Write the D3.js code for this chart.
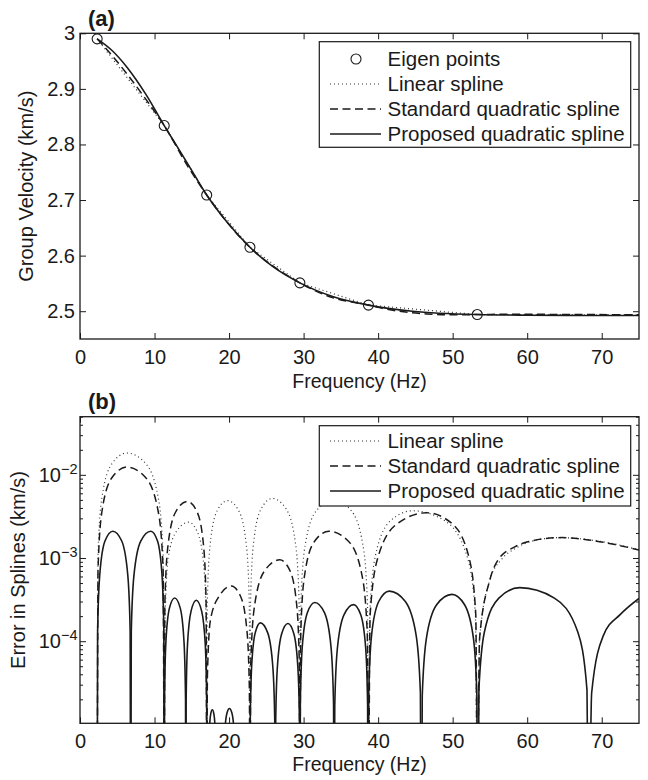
<!DOCTYPE html>
<html>
<head>
<meta charset="utf-8">
<script src="https://cdn.jsdelivr.net/npm/d3@7"></script>
<style>
body { margin: 0; background: #fff; }
svg text { font-family: "Liberation Sans", Arial, Helvetica, sans-serif; fill: #1a1a1a; }
</style>
</head>
<body>
<svg id="chart" width="648" height="780"></svg>
<script>
// ---- panel (a): group velocity ----
var eigenFreq = [2.3, 11.3, 17.0, 22.8, 29.5, 38.7, 53.3];			// eigen points (Hz)
var eigenVel = [2.990, 2.834, 2.709, 2.615, 2.551, 2.511, 2.494];	// km/s

var linearFreq = [2.3, 11.3, 17.0, 22.8, 29.5, 38.7, 53.3, 75];
var linearVel = [2.990, 2.834, 2.709, 2.615, 2.551, 2.511, 2.494, 2.4935];

var standardFreq = [2.3, 4.3, 6.3, 8.8, 11.3, 14.4, 17, 19.8, 22.8, 26.8, 29.5, 33.4, 38.7, 42.5, 46.5, 50, 53.3, 58.4, 64.5, 75];
var standardVel = [2.990, 2.960, 2.927, 2.882, 2.834, 2.762, 2.709, 2.659, 2.615, 2.573, 2.551, 2.5265, 2.511, 2.5005, 2.495, 2.4935, 2.494, 2.4945, 2.4942, 2.4935];

var proposedFreq = [2.3, 4.3, 6.3, 8.8, 11.3, 13, 14.6, 17, 19.8, 22.8, 25.8, 29.5, 34, 38.7, 44.6, 53.3, 60, 67, 75];
var proposedVel = [2.990, 2.969, 2.939, 2.891, 2.834, 2.797, 2.762, 2.709, 2.659, 2.615, 2.581, 2.551, 2.526, 2.511, 2.500, 2.494, 2.4928, 2.4924, 2.4922];

var freqTicks = [0, 10, 20, 30, 40, 50, 60, 70];
var velTicks = [2.5, 2.6, 2.7, 2.8, 2.9, 3];

// ---- panel (b): spline errors, one [freq, error] list per lobe (0 = exact at node) ----
var linearErr = [
  [[2.3,0],[2.42,1.1e-3],[2.94,5.3e-3],[4.3,1.37e-2],[6.3,1.83e-2],[8.8,1.37e-2],[10.5,5.3e-3],[11.15,1.1e-3],[11.3,0]],
  [[11.3,0],[11.4,1.6e-4],[11.83,1.0e-3],[12.95,2.1e-3],[14.6,2.7e-3],[15.8,2.0e-3],[16.62,7.8e-4],[16.93,1.6e-4],[17.0,0]],
  [[17.0,0],[17.08,2.9e-4],[17.45,1.42e-3],[18.4,3.7e-3],[19.8,4.9e-3],[21.3,3.7e-3],[22.32,1.42e-3],[22.71,2.9e-4],[22.8,0]],
  [[22.8,0],[22.89,3.1e-4],[23.28,1.5e-3],[24.3,3.9e-3],[25.8,5.2e-3],[27.65,3.9e-3],[28.91,1.5e-3],[29.39,3.1e-4],[29.5,0]],
  [[29.5,0],[29.64,3.0e-4],[30.22,1.45e-3],[31.75,3.75e-3],[34.0,5.0e-3],[36.35,3.75e-3],[37.95,1.45e-3],[38.56,3.0e-4],[38.7,0]],
  [[38.7,0],[38.88,2.2e-4],[39.64,1.07e-3],[41.65,2.8e-3],[44.6,3.7e-3],[48.95,2.8e-3],[51.9,1.07e-3],[53.04,2.2e-4],[53.3,0]],
  [[53.3,0],[53.62,1.1e-4],[55.0,5.5e-4],[56.5,9.5e-4],[58.4,1.3e-3],[60.5,1.58e-3],[64.5,1.76e-3],[68.2,1.66e-3],[71.8,1.47e-3],[75,1.25e-3]]
];
var standardErr = [
  [[2.3,0],[2.42,7.4e-4],[2.94,3.6e-3],[4.3,9.3e-3],[6.3,1.24e-2],[8.8,9.3e-3],[10.5,3.6e-3],[11.15,7.4e-4],[11.3,0]],
  [[11.3,0],[11.39,2.9e-4],[11.8,1.4e-3],[12.85,3.6e-3],[14.4,4.8e-3],[15.7,3.6e-3],[16.58,1.4e-3],[16.92,2.9e-4],[17.0,0]],
  [[17.0,0],[17.1,4e-5],[17.5,1.8e-4],[18.65,3.45e-4],[20.3,4.6e-4],[21.55,3.45e-4],[22.4,1.33e-4],[22.72,2.8e-5],[22.8,0]],
  [[22.8,0],[22.92,5.7e-5],[23.44,2.75e-4],[24.8,7.1e-4],[26.8,9.5e-4],[28.15,7.1e-4],[29.07,2.75e-4],[29.42,5.7e-5],[29.5,0]],
  [[29.5,0],[29.62,1.26e-4],[30.12,6.1e-4],[31.45,1.58e-3],[33.4,2.1e-3],[36.05,1.58e-3],[37.85,6.1e-4],[38.54,1.26e-4],[38.7,0]],
  [[38.7,0],[38.93,2.1e-4],[39.95,1.0e-3],[42.6,2.6e-3],[46.5,3.5e-3],[49.9,2.6e-3],[52.21,1.0e-3],[53.1,2.1e-4],[53.3,0]],
  [[53.3,0],[53.62,1.1e-4],[55.0,5.5e-4],[56.1,9.5e-4],[58.4,1.37e-3],[60.2,1.58e-3],[64.6,1.76e-3],[68.2,1.65e-3],[71.8,1.45e-3],[75,1.25e-3]]
];
var proposedErr = [
  [[2.3,0],[2.36,1.3e-4],[2.64,6.1e-4],[3.35,1.6e-3],[4.4,2.1e-3],[5.6,1.6e-3],[6.42,6.1e-4],[6.73,1.3e-4],[6.8,0]],
  [[6.8,0],[6.88,1.3e-4],[7.23,6.1e-4],[8.15,1.6e-3],[9.5,2.1e-3],[10.4,1.6e-3],[11.01,6.1e-4],[11.25,1.3e-4],[11.3,0]],
  [[11.3,0],[11.34,2.0e-5],[11.52,9.6e-5],[12.0,2.5e-4],[12.7,3.3e-4],[13.45,2.5e-4],[13.96,9.6e-5],[14.16,2.0e-5],[14.2,0]],
  [[14.2,0],[14.24,1.9e-5],[14.42,9.0e-5],[14.9,2.3e-4],[15.6,3.1e-4],[16.32,2.3e-4],[16.81,9.0e-5],[17.0,1.9e-5],[17.04,0]],
  [[17.3,0],[17.4,1.0e-5],[17.55,1.35e-5],[17.75,1.5e-5],[17.95,1.35e-5],[18.1,1.0e-5],[18.2,0]],
  [[19.35,0],[19.5,1.0e-5],[19.75,1.4e-5],[20.05,1.55e-5],[20.35,1.4e-5],[20.6,1.0e-5],[20.75,0]],
  [[22.8,0],[22.84,1.0e-5],[23.02,4.8e-5],[23.5,1.25e-4],[24.2,1.66e-4],[25.2,1.25e-4],[25.88,4.8e-5],[26.14,1.0e-5],[26.2,0]],
  [[26.2,0],[26.25,1.0e-5],[26.47,4.7e-5],[27.05,1.22e-4],[27.9,1.63e-4],[28.7,1.22e-4],[29.24,4.7e-5],[29.45,1.0e-5],[29.5,0]],
  [[29.5,0],[29.56,1.75e-5],[29.82,8.5e-5],[30.5,2.2e-4],[31.5,2.92e-4],[32.8,2.2e-4],[33.68,8.5e-5],[34.02,1.75e-5],[34.1,0]],
  [[34.1,0],[34.18,1.65e-5],[34.52,8.0e-5],[35.4,2.06e-4],[36.7,2.75e-4],[37.68,2.06e-4],[38.34,8.0e-5],[38.59,1.65e-5],[38.65,0]],
  [[38.65,0],[38.74,2.4e-5],[39.11,1.16e-4],[40.08,3.0e-4],[41.5,4.0e-4],[43.65,3.0e-4],[45.11,1.16e-4],[45.67,2.4e-5],[45.8,0]],
  [[45.8,0],[45.92,2.2e-5],[46.46,1.06e-4],[47.85,2.74e-4],[49.9,3.65e-4],[51.6,2.74e-4],[52.8,1.06e-4],[53.25,2.2e-5],[53.35,0]],
  [[53.35,0],[53.52,2.6e-5],[54.25,1.28e-4],[56.2,3.3e-4],[59.0,4.4e-4],[63.65,3.3e-4],[66.8,1.28e-4],[68.02,2.6e-5],[68.3,0]],
  [[68.3,0],[68.65,2.4e-5],[70.2,1.16e-4],[72.5,2.1e-4],[75,3.27e-4]]
];

var errMajorTicks = [1e-4, 1e-3, 1e-2];
var errTickLabels = ['\u22124', '\u22123', '\u22122'];		// exponents of 10
var errMinorMult = [2, 3, 4, 5, 6, 7, 8, 9];

var legendA = ['Eigen points', 'Linear spline', 'Standard quadratic spline', 'Proposed quadratic spline'];
var legendB = ['Linear spline', 'Standard quadratic spline', 'Proposed quadratic spline'];

// ---- layout ----
var ink = '#1a1a1a';
var fontFam = '"Liberation Sans", Arial, Helvetica, sans-serif';
var left = 80, right = 639;
var aTop = 33.3, aBottom = 339;
var bTop = 416.7, bBottom = 723.3;

var styles = {
  linear: { dash: '1,3', width: 1.2, color: '#333' },
  standard: { dash: '8,4.5', width: 1.5, color: ink },
  proposed: { dash: null, width: 1.6, color: ink }
};

var svg = d3.select('#chart');
svg.append('rect').attr('width', 648).attr('height', 780).attr('fill', '#fff');

var xA = d3.scaleLinear().domain([0, 75]).range([left, right]);
var yA = d3.scaleLinear().domain([2.45, 3]).range([aBottom, aTop]);
var xB = d3.scaleLinear().domain([0, 75]).range([left, right]);
var yB = d3.scaleLog().domain([1.03e-5, 0.05]).range([bBottom, bTop]);

function styleAxis(g) {
  g.attr('font-family', fontFam).attr('font-size', 20).attr('color', ink);
  g.select('.domain').remove();
  g.selectAll('.tick line').attr('stroke-width', 1);
}

function applyStyle(path, st) {
  path.attr('fill', 'none')
    .attr('stroke', st.color)
    .attr('stroke-width', st.width);
  if (st.dash) path.attr('stroke-dasharray', st.dash);
  return path;
}

function drawBox(top, bottom) {
  svg.append('rect')
    .attr('x', left).attr('y', top)
    .attr('width', right - left).attr('height', bottom - top)
    .attr('fill', 'none').attr('stroke', ink).attr('stroke-width', 1.3);
}

function drawLegend(x0, y0, x1, y1, labels, keys, firstY) {
  var g = svg.append('g');
  g.append('rect')
    .attr('x', x0).attr('y', y0).attr('width', x1 - x0).attr('height', y1 - y0)
    .attr('fill', '#fff').attr('stroke', ink).attr('stroke-width', 1.2);
  for (i = 0; i < labels.length; i++) {
    var by = firstY + i * 25;
    if (keys[i] === 'eigen') {
      g.append('circle').attr('cx', 356).attr('cy', by - 7).attr('r', 5)
        .attr('fill', 'none').attr('stroke', ink).attr('stroke-width', 1.1);
    }
    else {
      applyStyle(g.append('path').attr('d', 'M330,' + (by - 7) + 'H381'), styles[keys[i]]);
    }
    g.append('text')
      .attr('x', 387.5).attr('y', by)
      .attr('font-size', 20.5)
      .text(labels[i]);
  }
}

// ================= panel (a) =================
var lineA = d3.line().x(function(d) { return xA(d[0]); }).y(function(d) { return yA(d[1]); });

applyStyle(svg.append('path').datum(d3.zip(linearFreq, linearVel)).attr('d', lineA.curve(d3.curveLinear)), styles.linear);
applyStyle(svg.append('path').datum(d3.zip(standardFreq, standardVel)).attr('d', lineA.curve(d3.curveMonotoneX)), styles.standard);
applyStyle(svg.append('path').datum(d3.zip(proposedFreq, proposedVel)).attr('d', lineA.curve(d3.curveMonotoneX)), styles.proposed);

svg.append('g').selectAll('circle')
  .data(d3.zip(eigenFreq, eigenVel))
  .enter().append('circle')
  .attr('cx', function(d) { return xA(d[0]); })
  .attr('cy', function(d) { return yA(d[1]); })
  .attr('r', 5)
  .attr('fill', 'none').attr('stroke', ink).attr('stroke-width', 1.1);

svg.append('g').attr('transform', 'translate(0,' + aBottom + ')')
  .call(d3.axisBottom(xA).tickValues(freqTicks).tickSize(-6).tickPadding(11)).call(styleAxis);
svg.append('g').attr('transform', 'translate(0,' + aTop + ')')
  .call(d3.axisTop(xA).tickValues(freqTicks).tickSize(-6).tickFormat('')).call(styleAxis);
svg.append('g').attr('transform', 'translate(' + left + ',0)')
  .call(d3.axisLeft(yA).tickValues(velTicks).tickSize(-6).tickPadding(5)
    .tickFormat(function(d) { return d === 3 ? '3' : d.toFixed(1); })).call(styleAxis);
svg.append('g').attr('transform', 'translate(' + right + ',0)')
  .call(d3.axisRight(yA).tickValues(velTicks).tickSize(-6).tickFormat('')).call(styleAxis);
drawBox(aTop, aBottom);

drawLegend(319.3, 41.7, 630.7, 147.3, legendA, ['eigen', 'linear', 'standard', 'proposed'], 66);

svg.append('text').attr('x', 359.5).attr('y', 388).attr('text-anchor', 'middle').attr('font-size', 19.5).text('Frequency (Hz)');
svg.append('text').attr('transform', 'translate(33,' + ((aTop + aBottom) / 2) + ') rotate(-90)')
  .attr('text-anchor', 'middle').attr('font-size', 20).text('Group Velocity (km/s)');
svg.append('text').attr('x', 88).attr('y', 26).attr('font-size', 22).attr('font-weight', 'bold').text('(a)');

// ================= panel (b) =================
svg.append('clipPath').attr('id', 'clipB')
  .append('rect').attr('x', left).attr('y', bTop).attr('width', right - left).attr('height', bBottom - bTop);

var lineB = d3.line()
  .x(function(d) { return xB(d[0]); })
  .y(function(d) { return yB(Math.max(d[1], 1e-7)); })
  .curve(d3.curveMonotoneX);

var plotB = svg.append('g').attr('clip-path', 'url(#clipB)');
var seriesB = [[linearErr, styles.linear], [standardErr, styles.standard], [proposedErr, styles.proposed]];
for (s = 0; s < seriesB.length; s++) {
  for (k = 0; k < seriesB[s][0].length; k++) {
    applyStyle(plotB.append('path').datum(seriesB[s][0][k]).attr('d', lineB), seriesB[s][1]);
  }
}

var minorTicks = [];
for (e = -5; e <= -2; e++) {
  for (m = 0; m < errMinorMult.length; m++) {
    var v = errMinorMult[m] * Math.pow(10, e);
    if (v > 1.03e-5 && v <= 0.05) minorTicks.push(v);
  }
}

svg.append('g').attr('transform', 'translate(0,' + bBottom + ')')
  .call(d3.axisBottom(xB).tickValues(freqTicks).tickSize(-6).tickPadding(11)).call(styleAxis);
svg.append('g').attr('transform', 'translate(0,' + bTop + ')')
  .call(d3.axisTop(xB).tickValues(freqTicks).tickSize(-6).tickFormat('')).call(styleAxis);
svg.append('g').attr('transform', 'translate(' + left + ',0)')
  .call(d3.axisLeft(yB).tickValues(errMajorTicks).tickSize(-6).tickFormat('')).call(styleAxis);
svg.append('g').attr('transform', 'translate(' + left + ',0)')
  .call(d3.axisLeft(yB).tickValues(minorTicks).tickSize(-3).tickFormat('')).call(styleAxis);
svg.append('g').attr('transform', 'translate(' + right + ',0)')
  .call(d3.axisRight(yB).tickValues(errMajorTicks).tickSize(-6).tickFormat('')).call(styleAxis);
svg.append('g').attr('transform', 'translate(' + right + ',0)')
  .call(d3.axisRight(yB).tickValues(minorTicks).tickSize(-3).tickFormat('')).call(styleAxis);
drawBox(bTop, bBottom);

for (i = 0; i < errMajorTicks.length; i++) {
  var lab = svg.append('text')
    .attr('x', 77.5).attr('y', yB(errMajorTicks[i]) + 7)
    .attr('text-anchor', 'end').attr('font-size', 20);
  lab.append('tspan').text('10');
  lab.append('tspan').attr('dy', -8).attr('font-size', 14.5).text(errTickLabels[i]);
}

drawLegend(319.3, 425.7, 630.7, 506, legendB, ['linear', 'standard', 'proposed'], 448);

svg.append('text').attr('x', 359.5).attr('y', 771).attr('text-anchor', 'middle').attr('font-size', 19.5).text('Frequency (Hz)');
svg.append('text').attr('transform', 'translate(25,' + ((bTop + bBottom) / 2) + ') rotate(-90)')
  .attr('text-anchor', 'middle').attr('font-size', 20).text('Error in Splines (km/s)');
svg.append('text').attr('x', 88).attr('y', 409).attr('font-size', 22).attr('font-weight', 'bold').text('(b)');
</script>
</body>
</html>
